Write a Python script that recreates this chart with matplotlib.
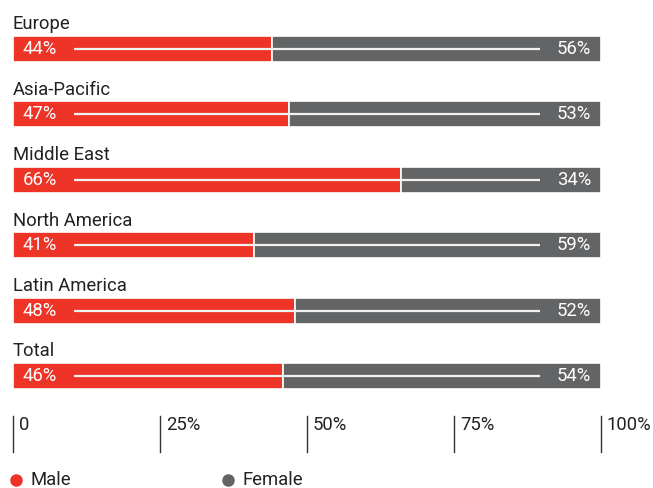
import matplotlib
matplotlib.use("Agg")
import matplotlib.pyplot as plt

regions = ["Europe", "Asia-Pacific", "Middle East", "North America", "Latin America", "Total"]
male = [44, 47, 66, 41, 48, 46]
female = [56, 53, 34, 59, 52, 54]
ticks = [0, 25, 50, 75, 100]
tick_labels = ["0", "25%", "50%", "75%", "100%"]

RED = "#EE3427"
GRAY = "#636466"
TEXT = "#222222"
FS = 13.3

plt.rcParams["font.family"] = ["Roboto", "DejaVu Sans"]

W, H = 653, 488
fig = plt.figure(figsize=(W / 100, H / 100), dpi=100)
# x: 0..100 spans the plotting width; y: one unit per region row
row_px = 65.4
first_px = 49
ax = fig.add_axes([13 / W, 0, 588 / W, 1])
ax.set_xlim(0, 100)
ax.set_ylim((H - first_px) / row_px, -first_px / row_px)
ax.axis("off")

bar_h = 0.40
y = list(range(len(regions)))
ax.barh(y, male, height=bar_h, color=RED, edgecolor="white", linewidth=1.2)
ax.barh(y, female, left=male, height=bar_h, color=GRAY, edgecolor="white", linewidth=1.2)

for i, (name, m, f) in enumerate(zip(regions, male, female)):
    ax.text(0, i - 0.30, name, ha="left", va="baseline", fontsize=FS, color=TEXT)
    ax.plot([10.4, 89.7], [i, i], color="#f2f2f2", lw=1.6, solid_capstyle="butt", zorder=3)
    ax.text(1.7, i, f"{m}%", ha="left", va="center", fontsize=FS, color="white", zorder=4)
    ax.text(98.3, i, f"{f}%", ha="right", va="center", fontsize=FS, color="white", zorder=4)

# axis ticks drawn as short vertical rules with labels to their right
tick_top = (416 - first_px) / row_px
tick_bot = (452 - first_px) / row_px
for t, lab in zip(ticks, tick_labels):
    ax.plot([t, t], [tick_top, tick_bot], color="#333333", lw=1.0, clip_on=False)
    ax.text(t + 1.0, (425 - first_px) / row_px, lab, ha="left", va="center",
            fontsize=FS, color=TEXT, clip_on=False)

# legend
leg_y = (480 - first_px) / row_px
for xm, col, lab in [(0.5, RED, "Male"), (36.6, GRAY, "Female")]:
    ax.plot([xm], [leg_y], marker="o", ms=8, color=col, clip_on=False, lw=0)
    ax.text(xm + 2.4, leg_y, lab, ha="left", va="center", fontsize=FS,
            color=TEXT, clip_on=False)

fig.savefig("out.png", dpi=100)
